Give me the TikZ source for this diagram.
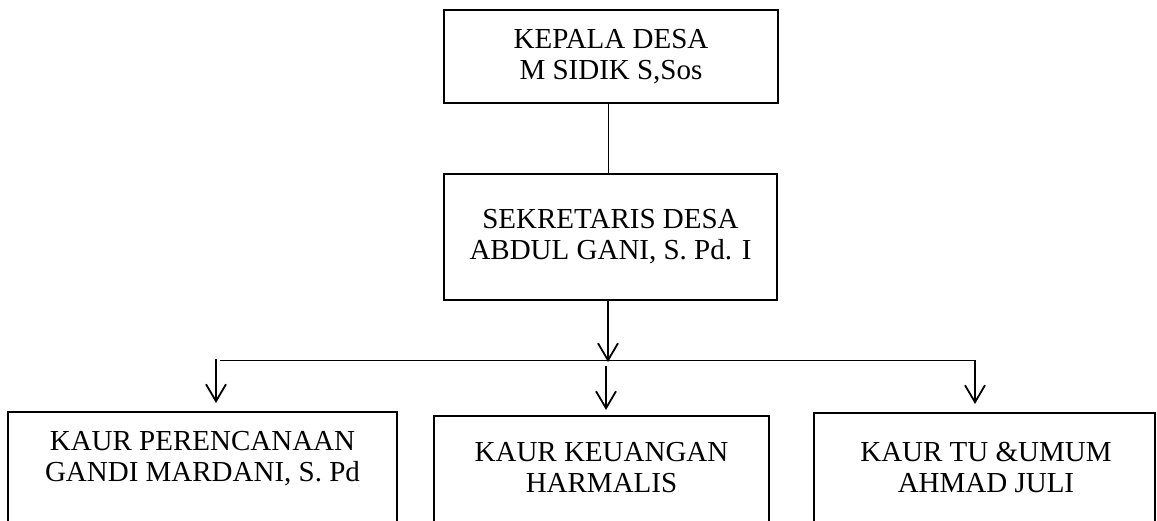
\documentclass[tikz,border=0pt]{standalone}
\usepackage{fontspec}
\setmainfont{Liberation Serif}
\usetikzlibrary{arrows.meta}
\begin{document}
\begin{tikzpicture}[x=0.5pt,y=-0.5pt,
  boxst/.style={draw, line width=1pt, inner sep=0pt, align=center,
    font=\fontsize{14.5}{15.5}\selectfont},
  lbl/.style={inner sep=0pt, align=center, font=\fontsize{14.5}{15.5}\selectfont},
  conn/.style={line width=0.5pt},
  arr/.style={line width=0.9pt, -{Straight Barb[length=8.5pt,width=10pt,line width=0.9pt]}}]
\useasboundingbox (0,0) rectangle (1157,520);
\clip (0,0) rectangle (1157,520);
% top boxes
\node[boxst, minimum width=167pt, minimum height=46.5pt] (kd) at (611,56.5)
  {KEPALA DESA\\M SIDIK S,Sos};
\node[boxst, minimum width=166.5pt, minimum height=63pt] (sd) at (610.5,237)
  {SEKRETARIS DESA\\ABDUL GANI, S. Pd. I};
% bottom boxes (cut off by the page edge)
\node[boxst, minimum width=194.5pt, minimum height=70pt, anchor=north] (kp) at (202.5,411) {};
\node[boxst, minimum width=167.5pt, minimum height=70pt, anchor=north] (ku) at (601.5,415) {};
\node[boxst, minimum width=170.5pt, minimum height=70pt, anchor=north] (tu) at (984.5,412) {};
% texts of bottom boxes
\node[lbl] (kpt) at (202.5,459) {KAUR PERENCANAAN\\GANDI MARDANI, S. Pd};
\node[lbl] (kut) at (601.5,468) {KAUR KEUANGAN\\HARMALIS};
\node[lbl] (tut) at (986,467) {KAUR TU \&UMUM\\AHMAD JULI};
% connectors
\coordinate (kds) at (608,103);
\draw[conn] (kds) -- (kds |- sd.north);
\coordinate (j) at (608,362);
\draw[arr] (j |- sd.south) -- (j);
\coordinate (hl) at (220,360);
\coordinate (hr) at (975,360);
\draw[conn] (hl) -- (hr);
\coordinate (la) at (216,359);
\draw[arr, shorten >=4pt] (la) -- (la |- kp.north);
\draw[arr, shorten >=4pt] (hr) -- (hr |- tu.north);
\coordinate (ms) at (606,366);
\draw[arr, shorten >=2.5pt] (ms) -- (ms |- ku.north);
\end{tikzpicture}
\end{document}
